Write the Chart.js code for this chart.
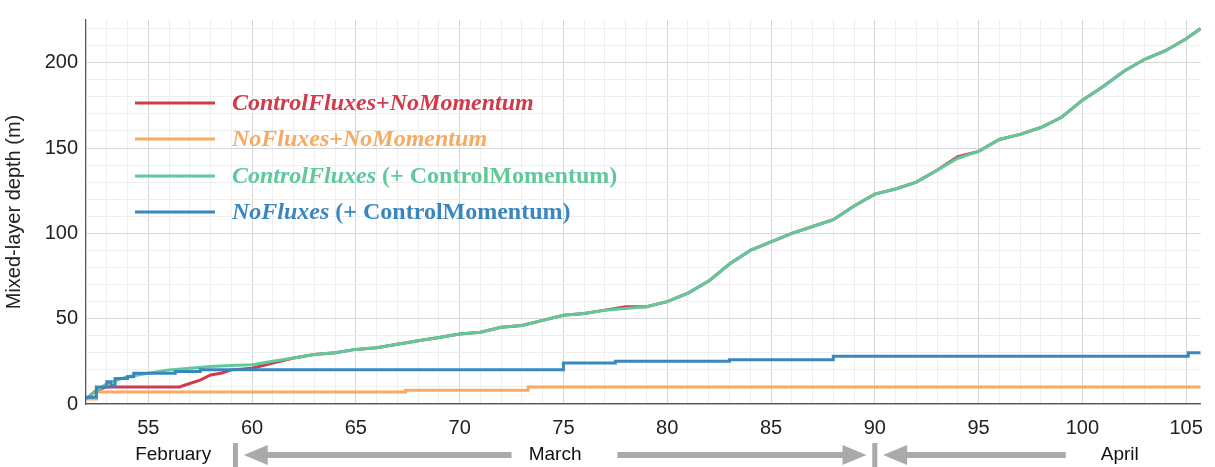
<!DOCTYPE html>
<html>
<head>
<meta charset="utf-8">
<script src="https://cdn.jsdelivr.net/npm/chart.js@4.4.0/dist/chart.umd.min.js"></script>
<style>
  html, body { margin: 0; padding: 0; background: #fff; }
  #wrap { width: 1215px; height: 467px; }
</style>
</head>
<body>
<div id="wrap"><canvas id="mld"></canvas></div>
<script>
// day of year vs mixed-layer depth (m)
const ctrlNoMomX = [52, 52.5, 53, 56.5, 57, 57.5, 58, 58.5, 59, 60, 61, 62, 63, 64, 65, 66, 67, 68, 69, 70, 71, 72, 73, 74, 75, 76, 77, 78, 79, 80, 81, 82, 83, 84, 85, 86, 87, 88, 89, 90, 91, 92, 93, 94, 95, 96, 97, 98, 99, 100, 101, 102, 103, 104, 105, 105.7];
const ctrlNoMomY = [3, 8, 10, 10, 12, 14, 17, 18, 20, 21, 24, 27, 29, 30, 32, 33, 35, 37, 39, 41, 42, 45, 46, 49, 52, 53, 55, 57, 57, 60, 65, 72, 82, 90, 95, 100, 104, 108, 116, 123, 126, 130, 137, 145, 148, 155, 158, 162, 168, 178, 186, 195, 202, 207, 214, 220];

const noFluxNoMomX = [52, 52.5, 67.3, 67.4, 73, 73.3, 105.7];
const noFluxNoMomY = [3, 7, 7, 8, 8, 10, 10];

const ctrlX = [52, 53, 54, 55, 56, 57, 58, 59, 60, 61, 62, 63, 64, 65, 66, 67, 68, 69, 70, 71, 72, 73, 74, 75, 76, 77, 78, 79, 80, 81, 82, 83, 84, 85, 86, 87, 88, 89, 90, 91, 92, 93, 94, 95, 96, 97, 98, 99, 100, 101, 102, 103, 104, 105, 105.7];
const ctrlY = [3, 12, 16, 18, 20, 21, 22, 22.5, 23, 25, 27, 29, 30, 32, 33, 35, 37, 39, 41, 42, 45, 46, 49, 52, 53, 55, 56, 57, 60, 65, 72, 82, 90, 95, 100, 104, 108, 116, 123, 126, 130, 137, 144, 148, 155, 158, 162, 168, 178, 186, 195, 202, 207, 214, 220];

const noFluxX = [52, 52.5, 53, 53.2, 53.4, 54, 54.3, 56, 56.3, 57.5, 74.5, 75, 77.5, 83, 88, 105, 105.1, 105.7];
const noFluxY = [4, 10, 13, 11, 15, 16, 18, 18, 19, 20, 20, 24, 25, 26, 28, 28, 30, 30];

const xTicks = [55, 60, 65, 70, 75, 80, 85, 90, 95, 100, 105];
const yTicks = [0, 50, 100, 150, 200];

const colors = { red: '#d13b4b', orange: '#f6aa62', green: '#5fc99b', blue: '#3a87c0' };

const pts = (xs, ys) => xs.map((x, i) => ({ x: x, y: ys[i] }));

function line(label, xs, ys, color, stepped, order) {
  return { label, data: pts(xs, ys), borderColor: color, borderWidth: 3, pointRadius: 0, stepped, fill: false, order, tension: 0 };
}

// legend drawn inside the plot, with mixed italic / upright pieces
const legendItems = [
  { color: colors.red, parts: [['italic bold', 'ControlFluxes'], ['bold', '+'], ['italic bold', 'NoMomentum']] },
  { color: colors.orange, parts: [['italic bold', 'NoFluxes'], ['bold', '+'], ['italic bold', 'NoMomentum']] },
  { color: colors.green, parts: [['italic bold', 'ControlFluxes'], ['bold', ' (+ ControlMomentum)']] },
  { color: colors.blue, parts: [['italic bold', 'NoFluxes'], ['bold', ' (+ ControlMomentum)']] }
];

const legendPlugin = {
  id: 'innerLegend',
  afterDatasetsDraw(chart) {
    const c = chart.ctx;
    const ys = [103, 139, 176, 212];
    c.save();
    legendItems.forEach((it, i) => {
      c.strokeStyle = it.color;
      c.lineWidth = 3;
      c.beginPath(); c.moveTo(135, ys[i]); c.lineTo(215, ys[i]); c.stroke();
      let x = 232;
      c.fillStyle = it.color;
      c.textBaseline = 'middle';
      it.parts.forEach(p => {
        c.font = p[0] + ' 24px "Liberation Serif", "Times New Roman", serif';
        c.fillText(p[1], x, ys[i] + 1);
        x += c.measureText(p[1]).width;
      });
    });
    c.restore();
  }
};

// month labels and arrows under the x axis
const monthPlugin = {
  id: 'months',
  afterDraw(chart) {
    const c = chart.ctx, xs = chart.scales.x;
    const y = 455, grey = '#aaaaaa';
    c.save();
    c.fillStyle = '#111';
    c.font = '19px "Liberation Sans", Arial, sans-serif';
    c.textAlign = 'center'; c.textBaseline = 'middle';
    c.fillText('February', xs.getPixelForValue(56.2), y);
    c.fillText('March', xs.getPixelForValue(74.6), y);
    c.fillText('April', xs.getPixelForValue(101.8), y);
    c.fillStyle = grey; c.strokeStyle = grey;
    const bar = v => { const p = xs.getPixelForValue(v); c.fillRect(p - 2.5, y - 12, 5, 24); };
    const arrow = (from, to) => {
      const a = xs.getPixelForValue(from), b = xs.getPixelForValue(to);
      const dir = b > a ? 1 : -1;
      c.lineWidth = 6;
      c.beginPath(); c.moveTo(a, y); c.lineTo(b - dir * 20, y); c.stroke();
      c.beginPath(); c.moveTo(b, y); c.lineTo(b - dir * 24, y - 10); c.lineTo(b - dir * 24, y + 10); c.closePath(); c.fill();
    };
    bar(59.2); bar(90);
    arrow(72.5, 59.6);
    arrow(77.6, 89.6);
    arrow(99.2, 90.4);
    c.restore();
  }
};

new Chart(document.getElementById('mld'), {
  type: 'line',
  data: {
    datasets: [
      line('ControlFluxes+NoMomentum', ctrlNoMomX, ctrlNoMomY, colors.red, false, 2),
      line('NoFluxes+NoMomentum', noFluxNoMomX, noFluxNoMomY, colors.orange, true, 3),
      line('ControlFluxes (+ ControlMomentum)', ctrlX, ctrlY, colors.green, false, 1),
      line('NoFluxes (+ ControlMomentum)', noFluxX, noFluxY, colors.blue, true, 0)
    ]
  },
  options: {
    responsive: true,
    maintainAspectRatio: false,
    animation: false,
    layout: { padding: { top: 14, right: 12, left: 0, bottom: 0 } },
    plugins: { legend: { display: false }, tooltip: { enabled: false } },
    scales: {
      x: {
        type: 'linear', min: 52, max: 105.7,
        afterBuildTicks: ax => { ax.ticks = []; for (let v = 52; v <= 105; v++) ax.ticks.push({ value: v }); },
        afterFit: ax => { ax.height = 63; },
        ticks: {
          autoSkip: false, maxRotation: 0, color: '#222', padding: 12,
          font: { size: 20, family: '"Liberation Sans", Arial, sans-serif' },
          callback: v => xTicks.includes(v) ? v : ''
        },
        grid: {
          color: ctx => xTicks.includes(ctx.tick.value) ? '#d6d6d6' : '#eeeeee',
          tickLength: 0
        },
        border: { color: '#555', width: 1.2 }
      },
      y: {
        min: 0, max: 225,
        afterBuildTicks: ax => { ax.ticks = []; for (let v = 0; v <= 220; v += 10) ax.ticks.push({ value: v }); },
        afterFit: ax => { ax.width = 86; },
        ticks: {
          autoSkip: false, color: '#222', padding: 8,
          font: { size: 20, family: '"Liberation Sans", Arial, sans-serif' },
          callback: v => yTicks.includes(v) ? v : ''
        },
        grid: {
          color: ctx => yTicks.includes(ctx.tick.value) ? '#d6d6d6' : '#eeeeee',
          tickLength: 0
        },
        border: { color: '#555', width: 1.2 },
        title: { display: true, text: 'Mixed-layer depth (m)', color: '#222', padding: 2, font: { size: 20, family: '"Liberation Sans", Arial, sans-serif' } }
      }
    }
  },
  plugins: [legendPlugin, monthPlugin]
});
</script>
</body>
</html>
